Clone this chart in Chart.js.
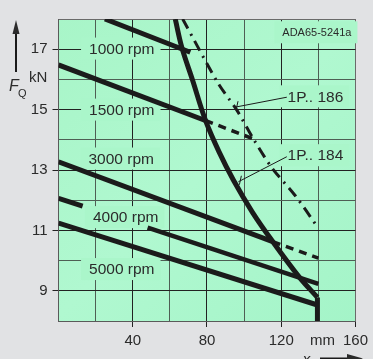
<!DOCTYPE html>
<html>
<head>
<meta charset="utf-8">
<script src="https://cdn.jsdelivr.net/npm/chart.js@4.4.0/dist/chart.umd.min.js"></script>
<style>
  html, body { margin: 0; padding: 0; background: #e1e2e4; }
</style>
</head>
<body>
<canvas id="myChart" width="373" height="359"></canvas>
<script>
// tick labels
const xTicks = [40, 80, 120, 160];
const yTicks = [9, 11, 13, 15, 17];

// limit curve 1P.. 184 (solid, thick), then its vertical end at x = 140
const limit184X = [62.9, 66.4, 72.2, 79.1, 86.5, 94.2, 104.5, 115.4, 129.5, 139.5];
const limit184Y = [18.0, 17.07, 15.98, 14.66, 13.6, 12.67, 11.6, 10.63, 9.47, 8.78];
const limit184EndX = [139.5, 139.5];
const limit184EndY = [8.78, 8.0];

// limit curve 1P.. 186 (dash-dot)
const limit186X = [66.9, 85.9, 96.0, 105.0, 115.0, 127.7, 139.9];
const limit186Y = [18.0, 15.88, 14.99, 14.03, 13.07, 12.14, 11.08];

// speed lines: solid part and dashed continuation
const rpm1000X = [25.0, 71.0];
const rpm1000Y = [18.0, 16.9];
const rpm1500X = [0, 79.1];
const rpm1500Y = [16.48, 14.64];
const rpm1500DashX = [79.1, 105.0];
const rpm1500DashY = [14.64, 14.03];
const rpm3000X = [0, 115.4];
const rpm3000Y = [13.27, 10.63];
const rpm3000DashX = [115.4, 140];
const rpm3000DashY = [10.63, 10.08];
const rpm4000aX = [0, 13.0];
const rpm4000aY = [12.06, 11.8];
const rpm4000bX = [48.0, 140];
const rpm4000bY = [11.09, 9.23];
const rpm5000X = [0, 139.5];
const rpm5000Y = [11.24, 8.53];

const ink = '#1b1b1b';
const textColor = '#2b2b2b';
const plotColor = '#aaf6ca';

function pts(xs, ys) {
    return xs.map((x, i) => ({ x: x, y: ys[i] }));
}

function lineSet(xs, ys, width, dash, tension) {
    return {
        data: pts(xs, ys),
        borderColor: ink,
        borderWidth: width,
        borderDash: dash || [],
        pointRadius: 0,
        tension: tension || 0,
        clip: 0,
        fill: false
    };
}

// labels inside the plot (data coords of the text centre)
const plotLabels = [
    { text: '1000 rpm', x: 34.1, y: 17.02, size: 15.5 },
    { text: '1500 rpm', x: 34.1, y: 15.0, size: 15.5 },
    { text: '3000 rpm', x: 33.8, y: 13.38, size: 15.5 },
    { text: '4000 rpm', x: 36.2, y: 11.44, size: 15.5 },
    { text: '5000 rpm', x: 34.1, y: 9.72, size: 15.5 },
    { text: 'ADA65-5241a', x: 139.2, y: 17.56, size: 11 },
    { text: '1P.. 186', x: 138.4, y: 15.44, size: 15.5 },
    { text: '1P.. 184', x: 138.4, y: 13.49, size: 15.5 }
];

// leader lines from the 1P.. labels to their curves
const leaders = [
    { from: [123.0, 15.41], to: [95.1, 15.08] },
    { from: [123.0, 13.44], to: [96.9, 12.61] }
];

const decorPlugin = {
    id: 'decor',
    beforeDraw(chart) {
        const c = chart.ctx;
        const a = chart.chartArea;
        c.save();
        c.fillStyle = '#e1e2e4';
        c.fillRect(0, 0, chart.width, chart.height);
        const g = c.createLinearGradient(a.left, a.top, a.right, a.bottom);
        g.addColorStop(0, '#a8f5c8');
        g.addColorStop(0.5, '#b0f8d0');
        g.addColorStop(1, '#a4f4c8');
        c.fillStyle = g;
        c.fillRect(a.left, a.top, a.right - a.left, a.bottom - a.top);
        c.restore();
    },
    beforeDatasetsDraw(chart) {
        const c = chart.ctx;
        const xs = chart.scales.x, ys = chart.scales.y;
        c.save();
        c.textBaseline = 'middle';
        c.textAlign = 'center';
        plotLabels.forEach(l => {
            c.font = l.size + 'px "Liberation Sans", Arial, sans-serif';
            const px = xs.getPixelForValue(l.x);
            const py = ys.getPixelForValue(l.y);
            const w = c.measureText(l.text).width;
            c.fillStyle = plotColor;
            c.fillRect(px - w / 2 - 8, py - 11, w + 14, 22);
            c.fillStyle = textColor;
            c.fillText(l.text, px, py + 1);
        });
        c.strokeStyle = ink;
        c.lineWidth = 1;
        leaders.forEach(d => {
            const x1 = xs.getPixelForValue(d.from[0]), y1 = ys.getPixelForValue(d.from[1]);
            const x2 = xs.getPixelForValue(d.to[0]), y2 = ys.getPixelForValue(d.to[1]);
            c.beginPath();
            c.moveTo(x1, y1);
            c.lineTo(x2, y2);
            c.moveTo(x2 + 3, y2 - 6);
            c.lineTo(x2 + 1, y2 + 3);
            c.stroke();
        });
        c.restore();
    },
    afterDraw(chart) {
        const c = chart.ctx;
        const a = chart.chartArea;
        c.save();
        c.fillStyle = textColor;
        c.strokeStyle = ink;
        // y axis arrow and title
        c.lineWidth = 2;
        c.beginPath();
        c.moveTo(16, 72);
        c.lineTo(16, 32);
        c.stroke();
        c.beginPath();
        c.moveTo(16, 20);
        c.lineTo(12.5, 34);
        c.lineTo(19.5, 34);
        c.closePath();
        c.fill();
        c.textBaseline = 'alphabetic';
        c.textAlign = 'left';
        c.font = 'italic 16px "Liberation Sans", Arial, sans-serif';
        c.fillText('F', 9, 91);
        c.font = '11px "Liberation Sans", Arial, sans-serif';
        c.fillText('Q', 18, 97);
        c.font = '15px "Liberation Sans", Arial, sans-serif';
        c.fillText('kN', 29, 82);
        // x axis unit, arrow and title
        c.textAlign = 'center';
        c.textBaseline = 'middle';
        c.fillText('mm', 322.5, a.bottom + 20);
        c.font = 'italic 15px "Liberation Sans", Arial, sans-serif';
        c.textBaseline = 'alphabetic';
        c.fillText('x', 306.5, 364);
        c.beginPath();
        c.moveTo(320, 358.5);
        c.lineTo(348, 358.5);
        c.stroke();
        c.beginPath();
        c.moveTo(363, 358.5);
        c.lineTo(347, 354);
        c.lineTo(347, 363);
        c.closePath();
        c.fill();
        c.restore();
    }
};

function gridColor(ctx, labelled) {
    const v = ctx.tick ? ctx.tick.value : null;
    if (v === 160 || v === 18) return '#6a6a6a';
    return labelled.includes(v) ? '#222222' : '#4e5e54';
}

const ctx = document.getElementById('myChart');
new Chart(ctx, {
    type: 'line',
    data: {
        datasets: [
            lineSet(limit184X, limit184Y, 5, null, 0.35),
            lineSet(limit184EndX, limit184EndY, 5),
            lineSet(limit186X, limit186Y, 3, [11, 6, 2, 6], 0.3),
            lineSet(rpm1000X, rpm1000Y, 5),
            lineSet(rpm1500X, rpm1500Y, 5),
            lineSet(rpm1500DashX, rpm1500DashY, 3.5, [8, 6]),
            lineSet(rpm3000X, rpm3000Y, 5),
            lineSet(rpm3000DashX, rpm3000DashY, 3.5, [8, 6]),
            lineSet(rpm4000aX, rpm4000aY, 5),
            lineSet(rpm4000bX, rpm4000bY, 4.5),
            lineSet(rpm5000X, rpm5000Y, 5)
        ]
    },
    options: {
        responsive: false,
        animation: false,
        devicePixelRatio: 1,
        layout: { padding: { left: 0, top: 19, right: 13, bottom: 0 } },
        plugins: {
            legend: { display: false },
            tooltip: { enabled: false }
        },
        scales: {
            x: {
                type: 'linear',
                min: 0,
                max: 160,
                afterFit: (s) => { s.height = 38; },
                border: { display: true, color: '#5a5a5a', width: 1 },
                grid: {
                    color: (c) => gridColor(c, xTicks),
                    tickColor: (c) => xTicks.includes(c.tick.value) ? '#222222' : 'rgba(0,0,0,0)',
                    tickLength: 6,
                    lineWidth: 1
                },
                ticks: {
                    stepSize: 20,
                    autoSkip: false,
                    maxRotation: 0,
                    padding: 5,
                    color: textColor,
                    font: { family: '"Liberation Sans", Arial, sans-serif', size: 15 },
                    callback: (v) => xTicks.includes(v) ? String(v) : ''
                }
            },
            y: {
                type: 'linear',
                min: 8,
                max: 18,
                afterFit: (s) => { s.width = 58.5; },
                border: { display: true, color: '#5a5a5a', width: 1 },
                grid: {
                    color: (c) => gridColor(c, yTicks),
                    tickColor: (c) => yTicks.includes(c.tick.value) ? '#222222' : 'rgba(0,0,0,0)',
                    tickLength: 6,
                    lineWidth: 1
                },
                ticks: {
                    stepSize: 1,
                    autoSkip: false,
                    padding: 5,
                    color: textColor,
                    font: { family: '"Liberation Sans", Arial, sans-serif', size: 15 },
                    callback: (v) => yTicks.includes(v) ? String(v) : ''
                }
            }
        }
    },
    plugins: [decorPlugin]
});
</script>
</body>
</html>
